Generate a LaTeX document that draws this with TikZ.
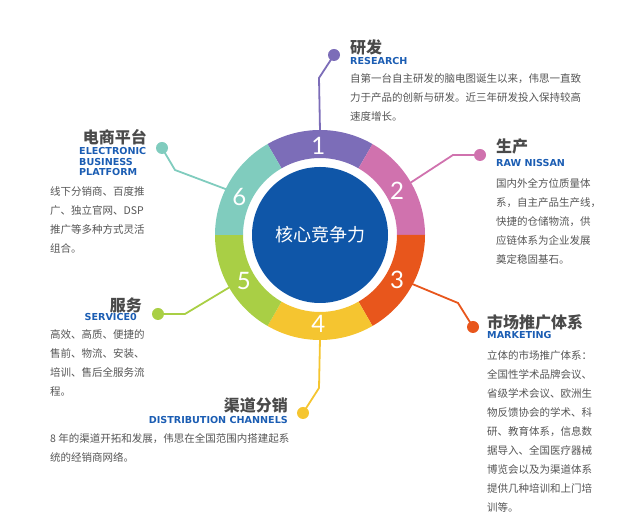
\documentclass[tikz,border=0pt]{standalone}
\usepackage{fontspec}
\usetikzlibrary{calc}
\setmainfont{Noto Sans CJK SC}
\newfontfamily\enb{DejaVu Sans}
\newfontfamily\numfont{Lato}
\definecolor{cPur}{HTML}{7C6DB8}
\definecolor{cPink}{HTML}{D072AE}
\definecolor{cOra}{HTML}{E8561C}
\definecolor{cYel}{HTML}{F5C530}
\definecolor{cGrn}{HTML}{A9CF45}
\definecolor{cTeal}{HTML}{80CCBE}
\definecolor{cBlue}{HTML}{0F56A8}
\definecolor{cHead}{HTML}{1B5DB3}
\definecolor{cTitle}{HTML}{4A4A4A}
\definecolor{cBody}{HTML}{555555}
\begin{document}
\begin{tikzpicture}[x=1pt,y=1pt,
  ttl/.style={font=\fontsize{16}{16}\selectfont\bfseries, text=cTitle, inner sep=0},
  eng/.style={font=\enb\bfseries\fontsize{9.6}{10.8}\selectfont, text=cHead, inner sep=0, align=left},
  body/.style={font=\fontsize{10.5}{19}\selectfont, text=cBody, inner sep=0, align=left, anchor=north west},
  dot/.style={circle, fill=#1, minimum size=12pt, inner sep=0},
  conn/.style={line width=1.8pt, draw=#1},
  num/.style={font=\numfont\fontsize{24}{24}\selectfont, text=white, inner sep=0}]
\useasboundingbox (0,0) rectangle (640,521);
\coordinate (C) at (320,286);
% ring segments
\foreach \a/\b/\c in {60/120/cPur, 0/60/cPink, -60/0/cOra, -120/-60/cYel, 180/240/cGrn, 120/180/cTeal}{
  \fill[\c, shift={(C)}] (\a:77) arc[start angle=\a, end angle=\b, radius=77pt]
    -- (\b:105) arc[start angle=\b, end angle=\a, radius=105pt] -- cycle;
}
\node[circle, fill=cBlue, minimum size=136pt, inner sep=0, text=white,
  font=\fontsize{18}{18}\selectfont] (core) at (C) {核心竞争力};
% numbers
\node[num] (n1) at ($(C)+(91:89)$) {1};
\node[num] (n2) at ($(C)+(30:89)$) {2};
\node[num] (n3) at ($(C)+(-30:89)$) {3};
\node[num] (n4) at ($(C)+(-91:89)$) {4};
\node[num] (n5) at ($(C)+(-149:89)$) {5};
\node[num] (n6) at ($(C)+(155:89)$) {6};
% ring anchors
\coordinate (r1) at ($(C)+(90:104)$);
\coordinate (r2) at ($(C)+(30:104)$);
\coordinate (r3) at ($(C)+(-28:104)$);
\coordinate (r4) at ($(C)+(-90:104)$);
\coordinate (r5) at ($(C)+(210:104)$);
\coordinate (r6) at ($(C)+(154:104)$);
% dots
\node[dot=cPur] (d1) at (334,466) {};
\node[dot=cPink] (d2) at (480,366) {};
\node[dot=cOra] (d3) at (473,194) {};
\node[dot=cYel] (d4) at (303,108) {};
\node[dot=cGrn] (d5) at (158,207) {};
\node[dot=cTeal] (d6) at (162,373) {};
% connectors
\draw[conn=cPur] (r1) -- (319,443) -- (d1.center);
\draw[conn=cPink] (r2) -- (453,366) -- (d2.center);
\draw[conn=cOra] (r3) -- (458,218) -- (d3.center);
\draw[conn=cYel] (r4) -- (319,133) -- (d4.center);
\draw[conn=cGrn] (r5) -- (185,207) -- (d5.center);
\draw[conn=cTeal] (r6) -- (175,351) -- (d6.center);
% texts
\node[ttl, anchor=west] (t1) at (350,474) {研发};
\node[eng, anchor=west] (e1) at (350,460) {RESEARCH};
\node[body] (b1) at (350,448) {自第一台自主研发的脑电图诞生以来，伟思一直致\\力于产品的创新与研发。近三年研发投入保持较高\\速度增长。};

\node[ttl, anchor=west] (t2) at (496,374) {生产};
\node[eng, anchor=west] (e2) at (496,358) {RAW NISSAN};
\node[body] (b2) at (496,343) {国内外全方位质量体\\系，自主产品生产线，\\快捷的仓储物流，供\\应链体系为企业发展\\奠定稳固基石。};

\node[ttl, anchor=west] (t3) at (487,199) {市场推广体系};
\node[eng, anchor=west] (e3) at (487,186) {MARKETING};
\node[body] (b3) at (487,171) {立体的市场推广体系：\\全国性学术品牌会议、\\省级学术会议、欧洲生\\物反馈协会的学术、科\\研、教育体系，信息数\\据导入、全国医疗器械\\博览会以及为渠道体系\\提供几种培训和上门培\\训等。};

\node[ttl, anchor=east] (t4) at (288,116) {渠道分销};
\node[eng, anchor=east] (e4) at (288,101) {DISTRIBUTION CHANNELS};
\node[body] (b4) at (50,88) {8 年的渠道开拓和发展，伟思在全国范围内搭建起系\\统的经销商网络。};

\node[ttl, anchor=east] (t5) at (142,216) {服务};
\node[eng, anchor=east] (e5) at (137,204) {SERVICE0};
\node[body] (b5) at (50,192) {高效、高质、便捷的\\售前、物流、安装、\\培训、售后全服务流\\程。};

\node[ttl, anchor=east] (t6) at (147,384) {电商平台};
\node[eng, anchor=north west] (e6) at (79,374) {ELECTRONIC\\BUSINESS\\PLATFORM};
\node[body] (b6) at (50,335) {线下分销商、百度推\\广、独立官网、DSP\\推广等多种方式灵活\\组合。};
\end{tikzpicture}
\end{document}
